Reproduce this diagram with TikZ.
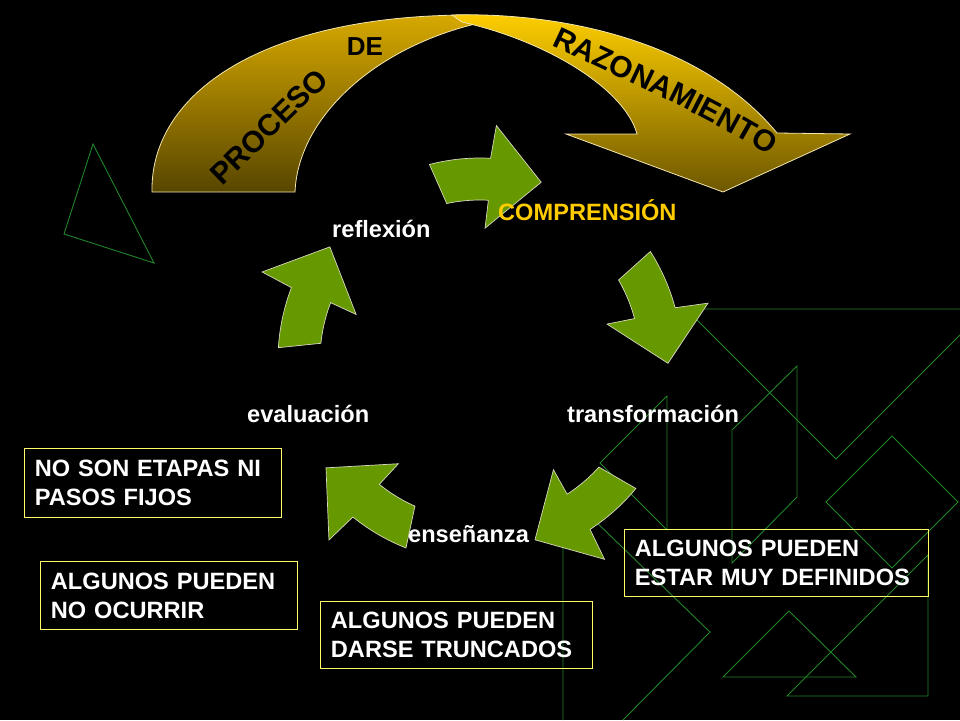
\documentclass[tikz,border=0pt]{standalone}
\usepackage{fontspec}
\setmainfont{Liberation Sans}
\usetikzlibrary{decorations.text}
\definecolor{bggreen}{HTML}{21852A}
\definecolor{arrgreen}{HTML}{669900}
\definecolor{arredge}{HTML}{D8D8C0}
\definecolor{boxyellow}{HTML}{FFFF66}
\definecolor{compyellow}{HTML}{FFCC00}
\definecolor{goldtop}{HTML}{FFCF00}
\definecolor{goldmid}{HTML}{E6B600}
\definecolor{goldbot}{HTML}{6E5700}
\definecolor{darkgoldtop}{HTML}{D6A800}
\definecolor{darkgoldmid}{HTML}{B48D00}
\definecolor{darkgoldbot}{HTML}{584600}
\definecolor{goldedge}{HTML}{F3E7B0}
\newcommand\lblfont{\fontsize{23.6}{28}\selectfont\bfseries}
\newcommand\boxfont{\fontsize{23.6}{29}\selectfont\bfseries}
\newcommand\arcfont{\fontsize{30}{30}\selectfont\bfseries}
\begin{document}
\begin{tikzpicture}[x=1pt,y=-1pt,
  bgline/.style={draw=bggreen, line width=0.9pt, line join=miter},
  greenarrow/.style={fill=arrgreen, draw=arredge, line width=0.7pt, line join=miter},
  lbl/.style={font=\lblfont, text=white, anchor=base west, inner sep=0pt},
  notebox/.style={draw=boxyellow, line width=0.9pt, anchor=north west, inner xsep=10.5pt, inner ysep=0pt, align=left, text=white, font=\boxfont},
  goldband/.style={draw=goldedge, line width=0.8pt}]
\useasboundingbox (0,0) rectangle (960,720);
\fill[black] (0,0) rectangle (960,720);

% background geometric lines
\draw[bgline] (93,144) -- (64,234) -- (154,263) -- cycle;
\draw[bgline] (960,309) -- (686,309) -- (836,459) -- (960,335);
\draw[bgline] (600,463) -- (667,396) -- (667,530) -- cycle;
\draw[bgline] (732,430) -- (797,366) -- (797,497) -- (732,563) -- cycle;
\draw[bgline] (892,436) -- (958,502) -- (892,568) -- (826,502) -- cycle;
\draw[bgline] (789,611) -- (856,677) -- (723,677) -- cycle;
\draw[bgline] (787,696) -- (928,696) -- (928,555) -- cycle;
\draw[bgline] (563,720) -- (563,490) -- (710,632) -- (623,720);

% top curved arrow
\shadedraw[goldband, top color=darkgoldtop, middle color=darkgoldmid, bottom color=darkgoldbot]
  (152,192) .. controls (150,92) and (265,15) .. (470,15) -- (475,24)
  .. controls (370,50) and (298,120) .. (295,192) -- cycle;
\shadedraw[goldband, top color=goldtop, middle color=goldmid, bottom color=goldbot]
  (452,15) .. controls (560,12) and (700,40) .. (777,133) -- (850,134) -- (723,192)
  -- (566,134) -- (637,134) .. controls (625,90) and (550,42) .. (462,22) -- cycle;
\path[decorate, decoration={text along path, text align=center,
  text={|\arcfont\color{black}|PROCESO}}]
  (210,198) -- (342,70);
\path[decorate, decoration={text along path, text align=center,
  text={|\arcfont\color{black}|RAZONAMIENTO}}]
  (540,40) .. controls (620,78) and (700,112) .. (780,162);
\node[font=\fontsize{26}{26}\selectfont\bfseries, text=black, anchor=base, inner sep=0pt] (de) at (365,55) {DE};

% green cycle arrows
\begin{scope}[shift={(480,360)}]
\foreach \m in {90,18,-54,-126,-198} {
  \pgfmathsetmacro{\a}{-1*\m}
  \pgfmathsetmacro{\tin}{\a-12}
  \pgfmathsetmacro{\tout}{\a-14.5}
  \pgfmathsetmacro{\bs}{\a+3}
  \pgfmathsetmacro{\wo}{\a+4}
  \pgfmathsetmacro{\wi}{\a+2.2}
  \pgfmathsetmacro{\tp}{\a+19}
  \filldraw[greenarrow] (\tin:160) -- (\tout:202)
    -- plot[domain=\tout:\bs, samples=12] (\x:202)
    -- (\wo:235) -- (\tp:188) -- (\wi:132) -- (\bs:160)
    -- plot[domain=\bs:\tin, samples=12] (\x:160) -- cycle;
}
\end{scope}

% cycle labels
\node[lbl, text=compyellow] (comp) at (498,220) {COMPRENSIÓN};
\node[lbl] (trans) at (567,422) {transformación};
\node[lbl] (ense) at (408,542) {enseñanza};
\node[lbl] (eval) at (247,422) {evaluación};
\node[lbl] (refl) at (332,237) {reflexión};

% note boxes
\node[notebox, minimum width=257pt, minimum height=69pt, text width=236pt] (n1) at (24,448) {NO SON ETAPAS NI\\PASOS FIJOS};
\node[notebox, minimum width=257pt, minimum height=68pt, text width=236pt] (n2) at (40,561) {ALGUNOS PUEDEN\\NO OCURRIR};
\node[notebox, minimum width=272pt, minimum height=67pt, text width=251pt] (n3) at (320,601) {ALGUNOS PUEDEN\\DARSE TRUNCADOS};
\node[notebox, minimum width=304pt, minimum height=67pt, text width=283pt] (n4) at (624,529) {ALGUNOS PUEDEN\\ESTAR MUY DEFINIDOS};
\end{tikzpicture}
\end{document}
